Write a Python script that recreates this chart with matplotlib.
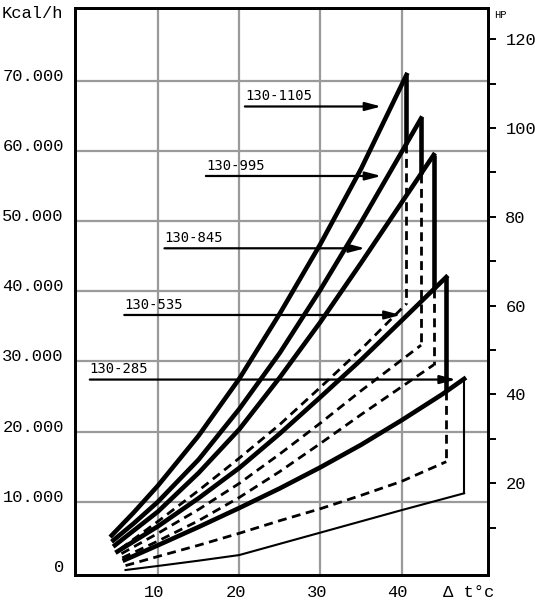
import numpy as np
import matplotlib
matplotlib.use("Agg")
import matplotlib.pyplot as plt

# ---------------- data ----------------
# upper (thick) curves, x in °C, y in kcal/h
X_1105 = [4.3, 7, 10, 15, 20, 25, 30, 35, 40.6]
Y_1105 = [5200, 8450, 12300, 19400, 27500, 36800, 46700, 57400, 70800]
X_995 = [4.5, 7, 10, 15, 20, 25, 30, 35, 40, 42.4]
Y_995 = [4500, 6900, 10000, 16000, 23200, 31200, 40200, 49800, 59800, 64600]
X_845 = [4.7, 10, 15, 20, 25, 30, 35, 40, 43.95]
Y_845 = [3800, 8600, 14100, 20300, 27700, 35600, 44000, 52600, 59400]
X_535 = [5.0, 10, 15, 20, 25, 30, 35, 40, 45.5]
Y_535 = [2900, 6500, 10500, 14800, 19700, 24900, 30200, 35800, 42000]
X_285 = [5.9, 10, 15, 20, 25, 30, 35, 40, 45, 47.7]
Y_285 = [1700, 3800, 6400, 9100, 11900, 14900, 18100, 21600, 25300, 27500]

# lower curves (dashed, thin for 130-285)
XD_1105 = [5.4, 10, 15, 20, 25, 30, 35, 40.6]
YD_1105 = [3300, 7200, 11600, 16200, 21000, 26300, 31700, 38200]
XD_995 = [5.5, 10, 15, 20, 25, 30, 35, 42.4]
YD_995 = [2600, 5500, 8900, 12600, 16800, 21200, 25800, 32300]
XD_845 = [5.6, 10, 15, 20, 25, 30, 35, 43.95]
YD_845 = [2000, 4400, 7300, 10600, 14300, 18300, 22400, 29500]
XD_535 = [6.0, 10, 15, 20, 25, 30, 35, 40, 45.5]
YD_535 = [900, 2200, 3800, 5500, 7300, 9000, 10900, 12900, 15700]
XL_285 = [6.0, 10, 15, 20, 25, 30, 35, 40, 47.7]
YL_285 = [270, 850, 1600, 2400, 4000, 5600, 7200, 8800, 11200]

# labels with arrows
ARROW_LABELS = ["130-1105", "130-995", "130-845", "130-535", "130-285"]
ARROW_Y = [66300, 56400, 46100, 36600, 27400]
ARROW_X0 = [20.7, 15.9, 10.8, 5.85, 1.6]
ARROW_X1 = [37.5, 37.5, 35.5, 39.9, 46.7]

# axes ticks / grid
Y_TICKS = [0, 10000, 20000, 30000, 40000, 50000, 60000, 70000]
Y_TICK_LABELS = ["0", "10.000", "20.000", "30.000", "40.000", "50.000", "60.000", "70.000"]
X_TICKS = [9.5, 19.6, 29.6, 39.5, 48.3]
X_TICK_LABELS = ["10", "20", "30", "40", "Δ t°c"]
GRID_X = [10, 20, 30, 40]
GRID_Y = [10000, 20000, 30000, 40000, 50000, 60000, 70000]
HP_MAJOR = [20, 40, 60, 80, 100, 120]
HP_MAJOR_LABELS = ["20", "40", "60", "80", "100", "120"]
HP_MINOR = [10, 30, 50, 70, 90, 110]
KCAL_PER_HP = 632.4

XLIM = (-0.22, 50.64)
YLIM = (-440, 80330)

MONO = ["Liberation Mono", "DejaVu Sans Mono"]

fig = plt.figure(figsize=(5.35, 6.0), dpi=100)
ax = fig.add_axes([75 / 535, 25 / 600, 413 / 535, 567 / 600])
ax.set_xlim(*XLIM)
ax.set_ylim(*YLIM)

# grid
for gx in GRID_X:
    ax.axvline(gx, color="#9a9a9a", lw=1.6, zorder=0)
for gy in GRID_Y:
    ax.axhline(gy, color="#9a9a9a", lw=1.6, zorder=0)

THICK = 3.3
DASH_LW = 2.0
DASH = (0, (3.2, 2.0))

uppers = [(X_1105, Y_1105), (X_995, Y_995), (X_845, Y_845), (X_535, Y_535), (X_285, Y_285)]
lowers = [(XD_1105, YD_1105), (XD_995, YD_995), (XD_845, YD_845), (XD_535, YD_535)]

for xs, ys in uppers:
    ax.plot(xs, ys, color="black", lw=THICK, solid_joinstyle="round", zorder=4)

for xs, ys in lowers:
    ax.plot(xs, ys, color="black", lw=DASH_LW, linestyle=DASH, zorder=3)

ax.plot(XL_285, YL_285, color="black", lw=1.5, zorder=3)

# verticals at the end of each model
for i in range(4):
    xs, ys = uppers[i]
    nx, ny = uppers[i + 1]
    dx, dy = lowers[i]
    xe = xs[-1]
    ycross = float(np.interp(xe, nx, ny))
    ax.plot([xe, xe], [ys[-1], ycross], color="black", lw=THICK,
            solid_capstyle="butt", zorder=4)
    ax.plot([xe, xe], [ycross, dy[-1]], color="black", lw=DASH_LW,
            linestyle=DASH, zorder=3)
ax.plot([X_285[-1], XL_285[-1]], [Y_285[-1], YL_285[-1]], color="black", lw=1.5, zorder=3)

# labelled arrows
for lab, y, x0, x1 in zip(ARROW_LABELS, ARROW_Y, ARROW_X0, ARROW_X1):
    ax.annotate("", xy=(x1, y), xytext=(x0, y),
                arrowprops=dict(arrowstyle="-|>,head_length=0.95,head_width=0.25",
                                color="black", lw=1.6, shrinkA=0, shrinkB=0,
                                mutation_scale=10), zorder=5)
    ax.annotate(lab, xy=(x0, y), xytext=(0, 2.5), textcoords="offset points",
                ha="left", va="bottom", fontsize=10, family=["DejaVu Sans Mono"],
                zorder=6)

# left axis labels
ax.set_yticks(Y_TICKS)
ax.set_yticklabels(Y_TICK_LABELS, family=MONO, fontsize=12.3)
for t in ax.get_yticklabels():
    t.set_va("baseline")
ax.tick_params(axis="y", length=0, pad=8)

ax.set_xticks(X_TICKS)
ax.set_xticklabels(X_TICK_LABELS, family=MONO, fontsize=12.3)
ax.tick_params(axis="x", length=0, pad=7)

for sp in ax.spines.values():
    sp.set_linewidth(2.0)
    sp.set_color("black")

# right HP axis
ax2 = ax.twinx()
ax2.set_ylim(YLIM[0] / KCAL_PER_HP, YLIM[1] / KCAL_PER_HP)
ax2.set_yticks(HP_MAJOR)
ax2.set_yticklabels(HP_MAJOR_LABELS, family=MONO, fontsize=12.3)
ax2.set_yticks(HP_MINOR, minor=True)
ax2.tick_params(axis="y", which="both", length=6, width=1.4, direction="out",
                pad=6.5, right=True)
for sp in ax2.spines.values():
    sp.set_linewidth(2.0)

fig.text(2 / 535, 1 - 13 / 600, "Kcal/h", ha="left", va="center", family=MONO,
         fontsize=12.3)
fig.text(494 / 535, 1 - 15 / 600, "HP", ha="left", va="center", family=MONO,
         fontsize=7.5)

fig.savefig("out.png", dpi=100)
